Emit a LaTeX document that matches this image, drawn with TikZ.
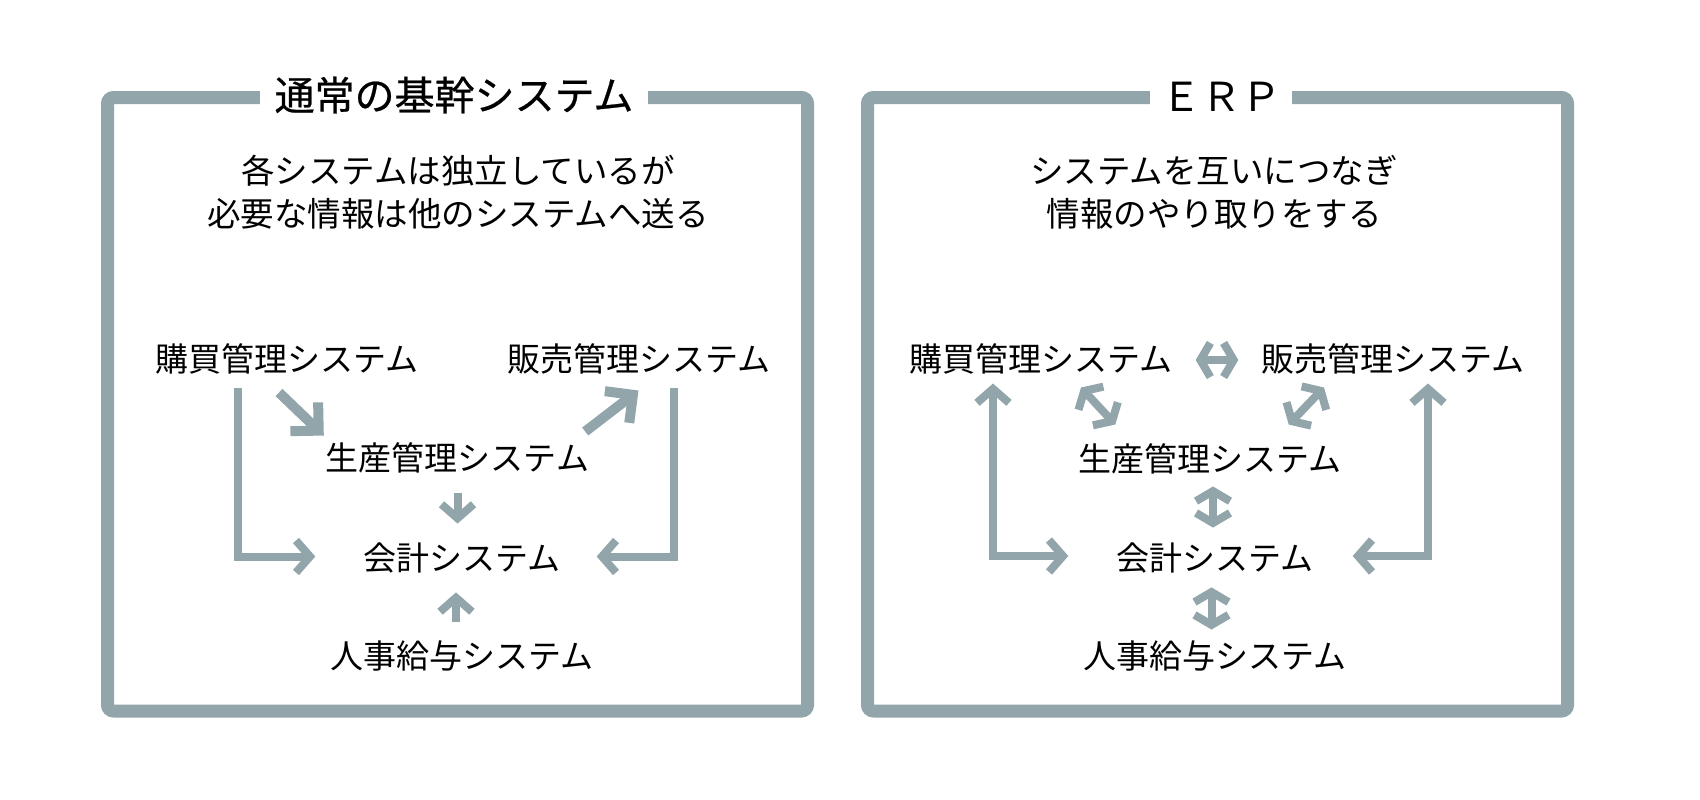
\documentclass[tikz,border=0pt]{standalone}
\usepackage{fontspec}
\setmainfont{Noto Sans CJK JP}
\newfontfamily\headfont{Noto Sans CJK JP}[FakeBold=0.6]
\usetikzlibrary{arrows.meta}
\definecolor{slate}{RGB}{146,165,171}
\tikzset{
  sys/.style={inner sep=0pt, font=\fontsize{33}{40}\selectfont},
  note/.style={align=center, inner sep=0pt, font=\fontsize{33.5}{43}\selectfont},
  heading/.style={fill=white, inner ysep=2pt, font=\fontsize{40}{48}\selectfont},
  frame/.style={draw=slate, line width=13pt, rounded corners=6pt},
  thin/.style={draw=slate, line width=8pt},
  fat/.style={draw=slate, line width=10pt, -bigchev},
  chev/.tip={Straight Barb[sharp,length=14pt,width=32pt]},
  dchev/.tip={Straight Barb[sharp,length=10pt,width=34pt]},
  bigchev/.tip={Straight Barb[sharp,length=20pt,width=40pt]},
}
\begin{document}
\begin{tikzpicture}[x=1pt,y=-1pt]
  \useasboundingbox (0,0) rectangle (1700,800);
  % frames
  \draw[frame] (107.5,97.5) rectangle (807.5,711);
  \draw[frame] (867.5,97.5) rectangle (1567.5,711);
  \node[heading, inner xsep=15pt, font=\fontsize{40}{48}\headfont] (tl) at (454,95) {通常の基幹システム};
  \node[heading, inner xsep=11pt] (tr) at (1221,97) {ＥＲＰ};
  \node[note] (nl) at (458,192) {各システムは独立しているが\\必要な情報は他のシステムへ送る};
  \node[note] (nr) at (1214,192) {システムを互いにつなぎ\\情報のやり取りをする};

  % left: usual systems
  \node[sys] (kobaiL) at (287,359) {購買管理システム};
  \node[sys] (hanbaiL) at (638.5,359) {販売管理システム};
  \node[sys] (seisanL) at (457.5,458) {生産管理システム};
  \node[sys] (kaikeiL) at (462,558) {会計システム};
  \node[sys] (jinjiL) at (462,656) {人事給与システム};
  \draw[fat] ([xshift=-8pt,yshift=-18pt]kobaiL.south) -- ([xshift=-2pt,yshift=7pt]seisanL.north west);
  \draw[fat] ([xshift=-4pt,yshift=11pt]seisanL.north east) -- ([yshift=-16pt]hanbaiL.south);
  \draw[thin,-chev] ([yshift=-20pt]seisanL.south) -- ([xshift=-4.5pt,yshift=19pt]kaikeiL.north);
  \draw[thin,-chev] ([xshift=-6pt,yshift=19pt]jinjiL.north) -- ([xshift=-6pt,yshift=-19pt]kaikeiL.south);
  \draw[thin,-chev] ([xshift=-49pt,yshift=-13pt]kobaiL.south) |- ([xshift=-48pt,yshift=1.5pt]kaikeiL.west);
  \draw[thin,-chev] ([xshift=35pt,yshift=-13pt]hanbaiL.south) |- ([xshift=36pt,yshift=1.5pt]kaikeiL.east);

  % right: ERP
  \node[sys] (kobaiR) at (1041,359) {購買管理システム};
  \node[sys] (hanbaiR) at (1393,359) {販売管理システム};
  \node[sys] (seisanR) at (1210,459) {生産管理システム};
  \node[sys] (kaikeiR) at (1215,558) {会計システム};
  \node[sys] (jinjiR) at (1215,656) {人事給与システム};
  \draw[thin,dchev-dchev] ([xshift=23pt,yshift=-1pt]kobaiR.east) -- ([xshift=-23pt,yshift=-1pt]hanbaiR.west);
  \draw[thin,dchev-dchev] ([xshift=40pt,yshift=-13pt]kobaiR.south) -- ([xshift=37pt,yshift=19pt]seisanR.north west);
  \draw[thin,dchev-dchev] ([xshift=-69pt,yshift=-13pt]hanbaiR.south) -- ([xshift=-53pt,yshift=19pt]seisanR.north east);
  \draw[thin,dchev-dchev] ([xshift=3pt,yshift=-12pt]seisanR.south) -- ([xshift=-2pt,yshift=15pt]kaikeiR.north);
  \draw[thin,dchev-dchev] ([xshift=-3.5pt,yshift=-14pt]kaikeiR.south) -- ([xshift=-3.5pt,yshift=11pt]jinjiR.north);
  \draw[thin,chev-chev] ([xshift=-48pt,yshift=-9pt]kobaiR.south) |- ([xshift=-48pt,yshift=2pt]kaikeiR.west);
  \draw[thin,chev-chev] ([xshift=35pt,yshift=-9pt]hanbaiR.south) |- ([xshift=39pt,yshift=2pt]kaikeiR.east);
\end{tikzpicture}
\end{document}
